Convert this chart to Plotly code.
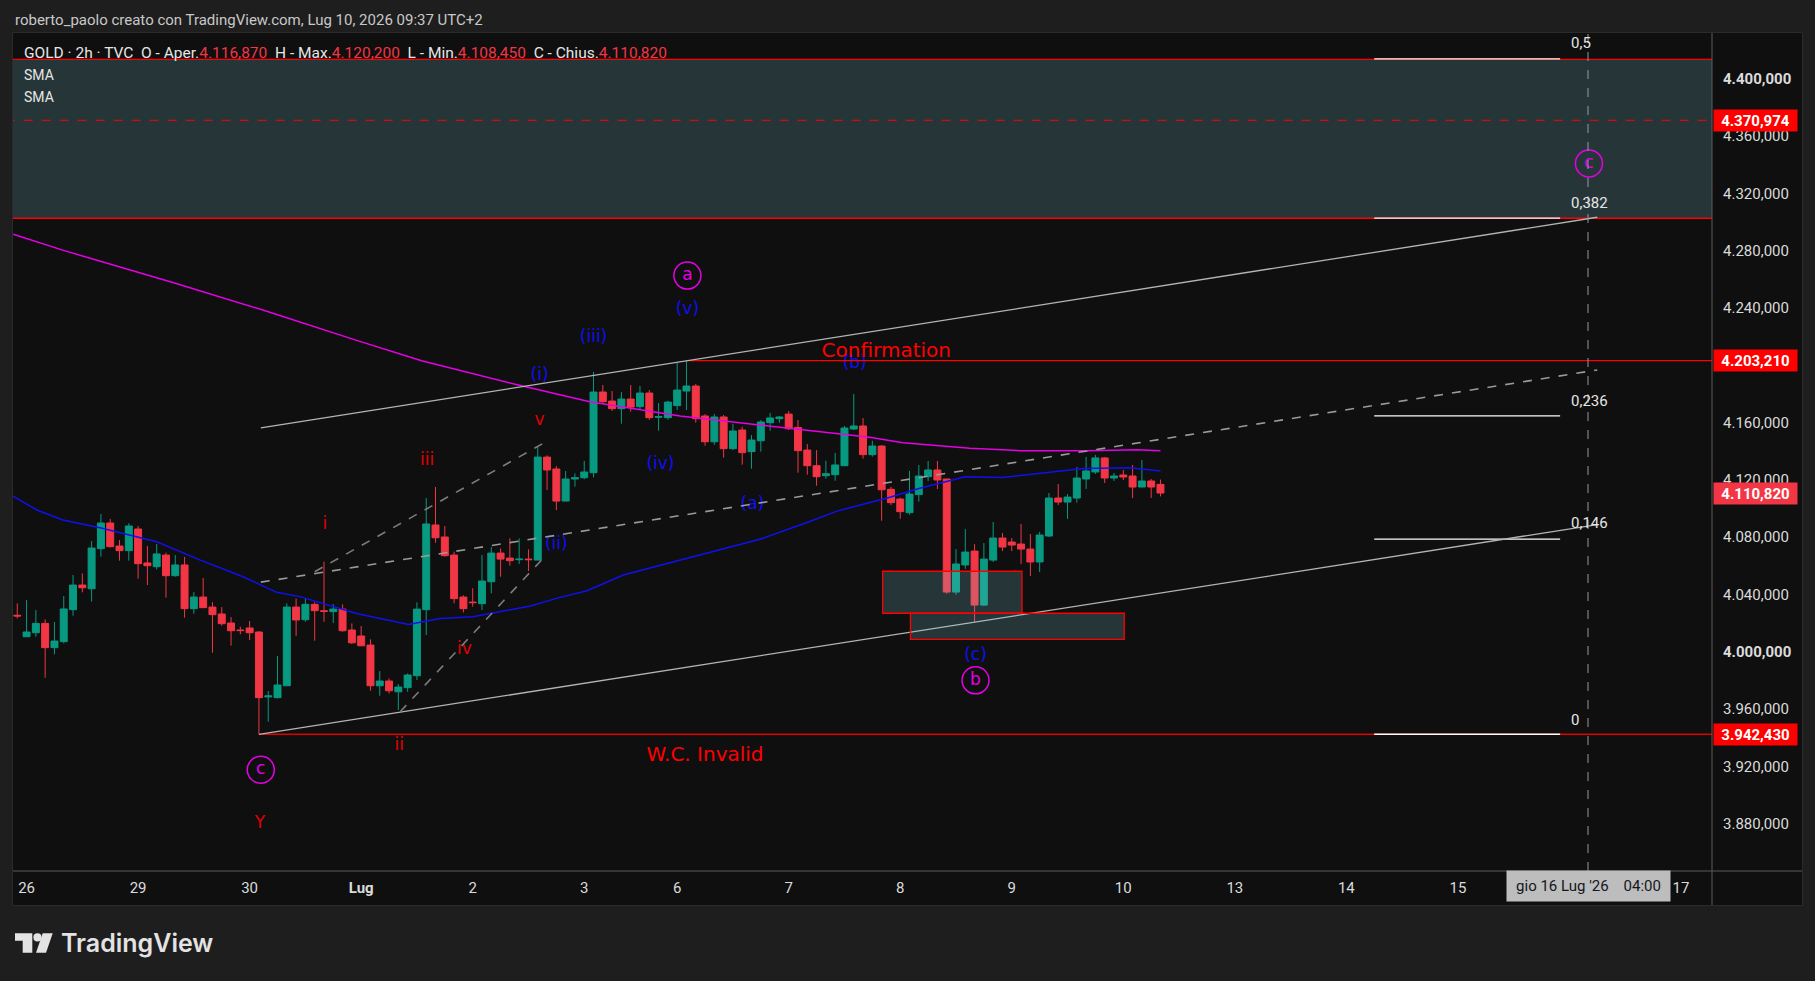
import plotly.graph_objects as go

# ---- colori stile TradingView dark ----
GREEN = "#089981"
RED = "#f23645"
PURE_RED = "#ff0000"
MAGENTA = "#e600e6"
BLUE = "#1010f0"
WAVE_RED = "#e00000"
ZONE_FILL = "rgba(130,210,220,0.2)"

# ---- candele 2h GOLD (indice barra: 0 = 26 giu 00:00) ----
bar_idx = list(range(-1, 123))
opens = [4025.5, 4010.5, 4013.3, 4019.8, 4002.9, 4007.1, 4029.4, 4046.6, 4044.0, 4072.0, 4089.9, 4073.8, 4070.6,
         4085.7, 4062.0, 4059.4, 4067.5, 4053.1, 4060.6, 4030.1, 4038.2, 4031.2, 4026.4, 4020.1, 4015.2,
         4016.6, 4013.8, 3968.5, 3968.0, 3976.3, 4031.2, 4022.4, 4033.1, 4028.6, 4028.0, 4029.8, 4015.2,
         4011.0, 4004.7, 3976.3, 3979.6, 3972.1, 3975.0, 3983.3, 4029.4, 4088.5, 4080.1, 4067.5, 4038.2,
         4034.7, 4033.6, 4048.9, 4068.9, 4065.4, 4064.3, 4064.7, 4064.0, 4135.9, 4127.6, 4105.2, 4120.6,
         4121.5, 4125.0, 4181.3, 4175.0, 4169.7, 4176.4, 4171.1, 4180.6, 4163.7, 4163.4,
         4171.8, 4182.0, 4185.5, 4164.6, 4146.6, 4163.9, 4141.8, 4154.8, 4139.7, 4147.3, 4159.9, 4162.7,
         4165.9, 4156.6, 4140.8, 4129.9, 4122.9, 4123.6, 4129.9, 4155.5, 4157.6, 4137.6, 4143.6, 4113.4,
         4106.6, 4097.1, 4109.7, 4122.2, 4126.9, 4120.6, 4041.7, 4060.6, 4070.3, 4032.6, 4064.0, 4079.4,
         4076.6, 4075.2, 4071.7, 4062.7, 4080.8, 4107.3, 4104.5, 4107.3, 4120.6, 4125.5, 4135.3, 4121.3,
         4123.4, 4122.7, 4115.0, 4119.2, 4116.870]
highs = [4033.8, 4036.1, 4029.2, 4022.6, 4020.8, 4038.9, 4053.6, 4054.7, 4077.3, 4096.2, 4092.7, 4078.0, 4089.7,
         4087.8, 4073.8, 4075.2, 4069.2, 4067.5, 4066.2, 4041.7, 4051.5, 4034.7, 4031.2, 4024.3, 4017.5,
         4021.5, 4014.5, 3972.6, 3997.0, 4033.8, 4037.1, 4036.8, 4034.5, 4062.9, 4033.3, 4033.1, 4019.8,
         4018.0, 4008.7, 3986.6, 3981.4, 3977.5, 3984.9, 4034.5, 4107.3, 4115.0, 4087.8, 4069.9, 4039.4,
         4044.3, 4067.5, 4073.1, 4072.2, 4079.2, 4079.2, 4071.5, 4143.6, 4137.1, 4129.7, 4126.2, 4124.5,
         4133.2, 4195.3, 4186.2, 4182.0, 4181.3, 4186.2, 4185.5, 4182.7, 4173.6, 4175.3,
         4201.8, 4203.21, 4186.9, 4165.9, 4165.9, 4165.3, 4159.2, 4157.1, 4151.3, 4161.8, 4166.7, 4164.6,
         4168.0, 4161.8, 4145.0, 4140.8, 4133.4, 4138.7, 4157.6, 4179.9, 4163.2, 4147.3, 4144.3, 4115.2,
         4107.6, 4126.2, 4130.4, 4133.2, 4133.2, 4120.6, 4071.7, 4085.7, 4075.2, 4075.9, 4090.6, 4082.9,
         4079.4, 4089.2, 4082.2, 4083.6, 4110.8, 4117.1, 4110.1, 4129.0, 4136.0, 4137.4, 4136.0, 4124.8,
         4126.9, 4130.4, 4133.9, 4120.6, 4120.200]
lows = [4023.3, 4010.5, 4010.5, 3981.9, 3998.2, 4005.9, 4025.2, 4041.5, 4035.0, 4066.4, 4072.7, 4063.6, 4063.6,
        4051.0, 4046.6, 4057.5, 4037.8, 4052.4, 4023.8, 4026.6, 4030.8, 3999.4, 4018.2, 4004.3, 4012.2,
        4008.2, 3942.43, 3951.2, 3967.5, 3976.3, 4011.2, 4021.0, 4007.7, 4021.0, 4020.1, 4014.0, 4005.4,
        4004.0, 3972.8, 3969.3, 3970.9, 3959.3, 3972.1, 3980.3, 4011.7, 4076.1, 4066.4, 4033.8, 4027.5,
        4031.5, 4029.2, 4040.8, 4052.4, 4060.1, 4061.3, 4056.4, 4064.0, 4112.9, 4098.9, 4105.2, 4115.2,
        4120.4, 4121.7, 4173.4, 4168.0, 4159.2, 4167.6, 4169.4, 4161.8, 4154.3, 4162.0,
        4168.8, 4168.8, 4159.9, 4143.8, 4144.5, 4135.5, 4140.8, 4130.6, 4127.8, 4139.7, 4154.3, 4159.9,
        4154.8, 4125.0, 4123.6, 4115.9, 4120.8, 4119.4, 4129.9, 4154.8, 4134.8, 4136.2, 4091.5, 4102.4,
        4092.9, 4095.7, 4104.8, 4119.2, 4113.6, 4040.5, 4039.8, 4057.8, 4020.8, 4031.9, 4062.7, 4070.3,
        4070.3, 4061.3, 4052.9, 4055.7, 4080.1, 4102.4, 4092.7, 4104.1, 4113.6, 4124.1, 4117.8, 4119.2,
        4119.9, 4107.3, 4115.0, 4107.3, 4108.450]
closes = [4025.0, 4013.8, 4019.8, 4002.9, 4007.5, 4029.9, 4046.6, 4044.7, 4072.4, 4089.9, 4073.4, 4070.6, 4087.8,
          4061.5, 4060.1, 4068.3, 4053.1, 4060.6, 4030.1, 4038.2, 4030.8, 4025.9, 4019.6, 4014.7, 4014.8,
          4013.3, 3968.0, 3969.2, 3976.8, 4031.2, 4022.2, 4033.1, 4028.7, 4028.2, 4029.8, 4014.7, 4006.3,
          4004.2, 3976.3, 3979.6, 3972.8, 3975.4, 3983.8, 4029.8, 4089.2, 4079.6, 4067.1, 4037.1, 4030.1,
          4034.3, 4049.4, 4068.9, 4064.7, 4063.6, 4064.7, 4064.3, 4135.9, 4126.9, 4105.2, 4120.6, 4121.5,
          4125.5, 4181.3, 4174.6, 4169.7, 4176.4, 4170.8, 4180.6, 4163.4, 4164.1, 4174.3,
          4182.7, 4185.5, 4162.7, 4146.6, 4163.9, 4141.8, 4154.1, 4139.0, 4147.8, 4160.4, 4163.2, 4163.9,
          4155.7, 4140.4, 4129.9, 4122.2, 4124.3, 4130.4, 4156.2, 4157.6, 4137.6, 4143.6, 4113.1, 4104.1,
          4097.8, 4110.1, 4122.7, 4126.9, 4119.9, 4041.7, 4061.3, 4069.6, 4032.6, 4064.7, 4079.4, 4073.1,
          4074.5, 4071.7, 4062.7, 4081.5, 4107.3, 4104.5, 4108.0, 4121.3, 4126.2, 4135.3, 4121.3, 4122.7,
          4122.0, 4115.0, 4119.2, 4115.0, 4110.820]

# ---- medie mobili ----
sma_fast_x = [-1.46, 1.1, 3.9, 7.9, 14.0, 18.7, 23.3, 26.9, 29.4, 35.5, 41.1, 44.5, 48.0, 54.2, 57.4, 60.3,
              64.2, 67.8, 71.7, 76.0, 78.9, 83.9, 87.2, 92.9, 96.1, 101.0, 105.0, 113.7, 118.7, 122.0]
sma_fast_y = [4108.7, 4099.0, 4092.0, 4086.6, 4076.8, 4064.0, 4052.4, 4041.5, 4038.5, 4026.8, 4019.1, 4023.3,
              4024.5, 4031.9, 4038.0, 4042.6, 4053.6, 4059.8, 4066.4, 4073.4, 4078.5, 4090.1, 4098.2, 4107.8,
              4114.1, 4122.2, 4121.7, 4128.0, 4128.5, 4126.2]
sma_slow_x = [-1.44, 4.06, 16.0, 26.0, 35.6, 42.5, 52.9, 57.4, 60.6, 70.3, 81.0, 90.7, 94.3, 101.5, 106.9,
              114.0, 119.5, 122.0]
sma_slow_y = [4291.4, 4280.0, 4257.2, 4237.4, 4217.2, 4203.2, 4186.2, 4179.2, 4174.5, 4164.6, 4156.7, 4149.7,
              4145.9, 4142.0, 4140.4, 4140.4, 4141.1, 4140.4]

# ---- asse tempo ----
day_idx = [0, 12, 24, 36, 48, 60, 70, 82, 94, 106, 118, 130, 142, 154, 178]
day_text = ["26", "29", "30", "<b>Lug</b>", "2", "3", "6", "7", "8", "9", "10", "13", "14", "15", "17"]
cursor_idx = 168
cursor_label = "gio 16 Lug '26\u00a0\u00a0\u00a0 04:00"

# ---- asse prezzi (4.200,000 coperto dal cartellino) ----
price_ticks = [3880, 3920, 3960, 4000, 4040, 4080, 4120, 4160, 4240, 4280, 4320, 4360, 4400]
bold_ticks = [4000, 4400]

# ---- livelli e disegni ----
zone_low, zone_high, zone_mid = 4302.6, 4413.5, 4370.974
confirm_level, confirm_start = 4203.21, 71
invalid_level, invalid_start = 3942.43, 25
fib_names = ["0,5", "0,382", "0,236", "0,146", "0"]
fib_prices = [4413.9, 4302.7, 4164.6, 4078.6, 3942.43]
fib_label_y = [4425.1, 4313.5, 4175.3, 4090.1, 3952.4]
fib_x0, fib_x1, fib_label_x = 145, 165, 166.1
channel_upper = [(25.2, 4156.3), (169.0, 4303.3)]
channel_lower = [(25.0, 3942.43), (169.0, 4088.8)]
channel_mid = [(25.2, 4048.6), (169.0, 4196.7)]
wave_top_line = [(31.0, 4055.9), (55.9, 4146.6)]
wave_bottom_line = [(40.2, 3958.2), (55.4, 4064.0)]
demand_zones = [(92.1, 107.1, 4026.9, 4056.2), (95.1, 118.1, 4008.7, 4026.9)]

tag_values = [4370.974, 4203.210, 3942.430, closes[-1]]
tag_colors = [PURE_RED, PURE_RED, PURE_RED, RED]

blue_labels = ["(i)", "(ii)", "(iii)", "(iv)", "(v)", "(a)", "(b)", "(c)"]
blue_x = [55.2, 57.0, 61.0, 68.2, 71.1, 78.1, 89.1, 102.1]
blue_y = [4192.5, 4075.0, 4219.0, 4130.4, 4238.4, 4102.9, 4200.9, 3997.0]
red_labels = ["i", "ii", "iii", "iv", "v", "Y"]
red_x = [32.1, 40.1, 43.1, 47.1, 55.2, 25.1]
red_y = [4088.5, 3934.6, 4133.4, 4001.2, 4161.0, 3879.8]
circle_labels = ["a", "b", "c", "c"]
circle_x = [71.1, 102.1, 25.2, 168.1]
circle_y = [4262.6, 3980.1, 3917.7, 4340.9]
big_labels = ["Confirmation", "W.C. Invalid"]
big_x = [92.5, 73.0]
big_y = [4209.3, 3927.4]

# ---- geometria pagina (pixel) ----
W, H = 1815, 981
PL, PR, PT, PB = 13, 1712, 34, 871


def px(X):
    return (X - PL) / (PR - PL)


def py(Y):
    return (PB - Y) / (PB - PT)


def fmt(v):
    s = f"{v:,.3f}"
    return s.replace(",", "#").replace(".", ",").replace("#", ".")


def path(points):
    return "M " + " L ".join(f"{px(a)},{py(b)}" for a, b in points) + " Z"


fig = go.Figure()

fig.add_trace(go.Candlestick(
    x=bar_idx, open=opens, high=highs, low=lows, close=closes,
    increasing=dict(line=dict(color=GREEN, width=1), fillcolor=GREEN),
    decreasing=dict(line=dict(color=RED, width=1), fillcolor=RED),
    whiskerwidth=0, hoverinfo="skip", showlegend=False,
))
fig.add_trace(go.Scatter(x=sma_slow_x, y=sma_slow_y, mode="lines", line=dict(color=MAGENTA, width=1.5),
                         hoverinfo="skip", showlegend=False))
fig.add_trace(go.Scatter(x=sma_fast_x, y=sma_fast_y, mode="lines", line=dict(color=BLUE, width=1.5),
                         hoverinfo="skip", showlegend=False))

# etichette onde
fig.add_trace(go.Scatter(x=blue_x, y=blue_y, mode="text", text=blue_labels,
                         textfont=dict(family="DejaVu Sans", size=17, color=BLUE),
                         hoverinfo="skip", showlegend=False))
fig.add_trace(go.Scatter(x=red_x, y=red_y, mode="text", text=red_labels,
                         textfont=dict(family="DejaVu Sans", size=17, color=WAVE_RED),
                         hoverinfo="skip", showlegend=False))
fig.add_trace(go.Scatter(x=circle_x, y=circle_y, mode="markers+text", text=circle_labels,
                         textposition="middle center",
                         marker=dict(symbol="circle-open", size=27, color=MAGENTA, line=dict(width=1.5)),
                         textfont=dict(family="DejaVu Sans", size=17, color=MAGENTA),
                         hoverinfo="skip", showlegend=False))
fig.add_trace(go.Scatter(x=big_x, y=big_y, mode="text", text=big_labels,
                         textfont=dict(family="DejaVu Sans", size=20, color=PURE_RED),
                         hoverinfo="skip", showlegend=False))

shapes = []
# pannello grafico
shapes.append(dict(type="rect", xref="paper", yref="paper", x0=px(12.5), x1=px(1802.5), y0=py(905.5), y1=py(32.5),
                   fillcolor="#0f0f0f", line=dict(color="#2b2b2b", width=1), layer="below"))
# zona superiore
shapes.append(dict(type="rect", xref="x", yref="y", x0=-10, x1=200, y0=zone_low, y1=zone_high,
                   fillcolor=ZONE_FILL, line=dict(width=0), layer="below"))
for lv in (zone_low, zone_high):
    shapes.append(dict(type="line", xref="x", yref="y", x0=-10, x1=200, y0=lv, y1=lv,
                       line=dict(color=PURE_RED, width=1.3), layer="above"))
shapes.append(dict(type="line", xref="x", yref="y", x0=-10, x1=200, y0=zone_mid, y1=zone_mid,
                   line=dict(color=PURE_RED, width=1, dash="dash"), layer="above"))
# linee orizzontali conferma / invalidazione
shapes.append(dict(type="line", xref="x", yref="y", x0=confirm_start, x1=200, y0=confirm_level, y1=confirm_level,
                   line=dict(color=PURE_RED, width=1.3), layer="above"))
shapes.append(dict(type="line", xref="x", yref="y", x0=invalid_start, x1=200, y0=invalid_level, y1=invalid_level,
                   line=dict(color="#e00000", width=1.3), layer="above"))
# fibonacci
for lv in fib_prices:
    shapes.append(dict(type="line", xref="x", yref="y", x0=fib_x0, x1=fib_x1, y0=lv, y1=lv,
                       line=dict(color="#ffffff", width=1.3), layer="above"))
# canale
for seg, dash, col in ((channel_upper, "solid", "#b4b4b4"), (channel_lower, "solid", "#b4b4b4"),
                       (channel_mid, "dash", "#9a9a9a"), (wave_top_line, "dash", "#7c7c7c"),
                       (wave_bottom_line, "dash", "#7c7c7c")):
    (a0, b0), (a1, b1) = seg
    shapes.append(dict(type="line", xref="x", yref="y", x0=a0, y0=b0, x1=a1, y1=b1,
                       line=dict(color=col, width=1.3 if dash == "solid" else 1.6, dash=dash), layer="above"))
# zone di domanda
for x0, x1, y0, y1 in demand_zones:
    shapes.append(dict(type="rect", xref="x", yref="y", x0=x0, x1=x1, y0=y0, y1=y1,
                       fillcolor=ZONE_FILL, line=dict(color=PURE_RED, width=1.3), layer="above"))
# crosshair verticale
shapes.append(dict(type="line", xref="x", yref="paper", x0=cursor_idx, x1=cursor_idx, y0=0, y1=1,
                   line=dict(color="#9598a1", width=1, dash="dash"), layer="above"))
# assi
shapes.append(dict(type="line", xref="paper", yref="paper", x0=px(1712), x1=px(1712), y0=py(905), y1=py(33),
                   line=dict(color="#5d5d5d", width=1)))
shapes.append(dict(type="line", xref="paper", yref="paper", x0=px(13), x1=px(1802), y0=py(871), y1=py(871),
                   line=dict(color="#5d5d5d", width=1)))
# logo TradingView
logo_col = "#e3e3e3"
shapes.append(dict(type="path", xref="paper", yref="paper", fillcolor=logo_col, line=dict(width=0),
                   path=path([(15, 933.3), (32.3, 933.3), (32.3, 952.7), (22.7, 952.7), (22.7, 940.7), (15, 940.7)])))
shapes.append(dict(type="circle", xref="paper", yref="paper", fillcolor=logo_col, line=dict(width=0),
                   x0=px(33.4), x1=px(41.6), y0=py(941.5), y1=py(933.3)))
shapes.append(dict(type="path", xref="paper", yref="paper", fillcolor=logo_col, line=dict(width=0),
                   path=path([(42.7, 933.3), (52.7, 933.3), (46.0, 952.7), (36.0, 952.7)])))

ann = []
# testo in alto
ann.append(dict(xref="paper", yref="paper", x=px(12.5), y=py(20), xanchor="left", yanchor="middle",
                text="roberto_paolo creato con TradingView.com, Lug 10, 2026 09:37 UTC+2",
                font=dict(family="Roboto", size=15, color="#c8c8c8"), showarrow=False))
sp = "\u00a0"


def num(v):
    return f"<span style='color:{RED}'>{fmt(v)}</span>"


legend = (f"GOLD · 2h · TVC{sp}{sp}O - Aper.{num(opens[-1])}{sp}{sp}H - Max.{num(highs[-1])}"
          f"{sp}{sp}L - Min.{num(lows[-1])}{sp}{sp}C - Chius.{num(closes[-1])}")
ann.append(dict(xref="paper", yref="paper", x=px(21.5), y=py(53.3), xanchor="left", yanchor="middle",
                text=legend, font=dict(family="Roboto", size=15.5, color="#e6e6e6"), showarrow=False))
for yy in (75, 96.7):
    ann.append(dict(xref="paper", yref="paper", x=px(21.5), y=py(yy), xanchor="left", yanchor="middle",
                    text="SMA", font=dict(family="Roboto", size=14, color="#e6e6e6"), showarrow=False))
# etichette fibonacci
for name, ly in zip(fib_names, fib_label_y):
    ann.append(dict(xref="x", yref="y", x=fib_label_x, y=ly, xanchor="left", yanchor="middle", text=name,
                    font=dict(family="Roboto", size=15, color="#e6e6e6"), showarrow=False, borderpad=0))
# cartellini di prezzo
for v, c in zip(tag_values, tag_colors):
    ann.append(dict(xref="paper", yref="y", x=px(1712.5), y=v, xanchor="left", yanchor="middle",
                    text=f"<b>{fmt(v)}</b>", font=dict(family="Roboto", size=15, color="#ffffff"),
                    bgcolor=c, width=80, height=18, borderpad=1.5, align="center", showarrow=False))
# etichetta crosshair
ann.append(dict(xref="x", yref="paper", x=cursor_idx, y=py(886), xanchor="center", yanchor="middle",
                text=cursor_label, font=dict(family="Roboto", size=15, color="#131722"),
                bgcolor="#bdbdbd", width=159, height=26, borderpad=2, showarrow=False))
# logo testo
ann.append(dict(xref="paper", yref="paper", x=px(58.5), y=py(943), xanchor="left", yanchor="middle",
                text="TradingView", font=dict(family="Inter", size=25, color=logo_col, weight=600),
                showarrow=False))

tick_text = [f"<b>{fmt(v)}</b>" if v in bold_ticks else fmt(v) for v in price_ticks]

fig.update_layout(
    width=W, height=H, autosize=False,
    margin=dict(l=PL, r=W - PR, t=PT, b=H - PB, pad=0),
    paper_bgcolor="#1e1e1e", plot_bgcolor="#0f0f0f",
    shapes=shapes, annotations=ann,
    showlegend=False, hovermode=False,
    boxgap=0.25, boxgroupgap=0,
    xaxis=dict(range=[-1.46, 181.34], tickvals=day_idx, ticktext=day_text, showgrid=False, zeroline=False,
               ticks="", ticklabelstandoff=6, tickfont=dict(family="Roboto", size=15, color="#dbdbdb"),
               rangeslider=dict(visible=False), fixedrange=True),
    yaxis=dict(range=[3847.0, 4431.2], side="right", tickvals=price_ticks, ticktext=tick_text, showgrid=False,
               zeroline=False, ticks="", ticklabelstandoff=10,
               tickfont=dict(family="Roboto", size=15, color="#dbdbdb"), fixedrange=True),
)

# la pagina non deve avere il margine di default del body
fig.write_html("out.html", config={"displayModeBar": False},
               post_script="document.body.style.margin='0';document.body.style.background='#1e1e1e';")
